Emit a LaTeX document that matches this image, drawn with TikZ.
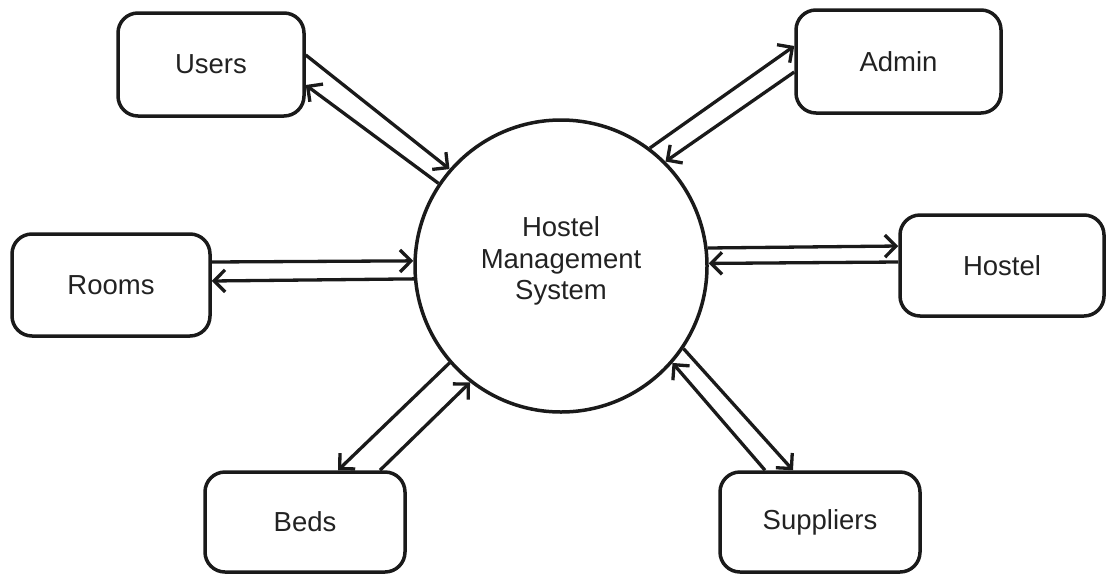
\documentclass[tikz,border=0pt]{standalone}
\usepackage{fontspec}
\setmainfont{Liberation Sans}
\usetikzlibrary{arrows.meta}
\definecolor{ink}{HTML}{1A1A1A}
\definecolor{txt}{HTML}{222222}
\begin{document}
\begin{tikzpicture}[x=1pt,y=-1pt,
  box/.style={draw=ink, line width=3.5pt, rounded corners=20pt, text=txt,
    font=\fontsize{27.5}{31.5}\selectfont},
  hub/.style={draw=ink, line width=3.5pt, circle, minimum size=292pt, inner sep=0pt},
  conn/.style={draw=ink, line width=3.3pt, -{Straight Barb[length=11pt,width=22pt]}}
]
\useasboundingbox (0,0) rectangle (1115,584);

\node[hub, label={[name=hsmtext, align=center, text=txt, yshift=5pt,
  font=\fontsize{27.5}{31.5}\selectfont]center:Hostel\\Management\\System}] (hsm) at (561,266) {};

\node[box, minimum width=186pt, minimum height=103pt] (users) at (211,64.5) {Users};
\node[box, minimum width=205pt, minimum height=103pt] (admin) at (898.5,61.5) {Admin};
\node[box, minimum width=198pt, minimum height=102pt] (rooms) at (111,285) {Rooms};
\node[box, minimum width=204pt, minimum height=101pt] (hostel) at (1002,265.5) {Hostel};
\node[box, minimum width=200pt, minimum height=100pt] (beds) at (305,522) {Beds};
\node[box, minimum width=200pt, minimum height=100pt] (suppliers) at (820,522) {Suppliers};

\draw[conn] ([yshift=9.5pt]users.east) -- (hsm.139.8);
\draw[conn] (hsm.146.2) -- ([yshift=-20.5pt]users.east);
\draw[conn] (hsm.53.7) -- ([yshift=15.5pt]admin.west);
\draw[conn] ([yshift=-10.5pt]admin.west) -- (hsm.45.3);
\draw[conn] ([yshift=23pt]rooms.east) -- (hsm.178.5);
\draw[conn] (hsm.185.8) -- ([yshift=4pt]rooms.east);
\draw[conn] (hsm.7.8) -- ([yshift=19.5pt]hostel.west);
\draw[conn] ([yshift=3.5pt]hostel.west) -- (hsm.1.55);
\draw[conn] (hsm.221.9) -- ([xshift=33pt]beds.north);
\draw[conn] ([xshift=75pt]beds.north) -- (hsm.232.5);
\draw[conn] ([xshift=-55pt]suppliers.north) -- (hsm.319.3);
\draw[conn] (hsm.326.9) -- ([xshift=-27pt]suppliers.north);
\end{tikzpicture}
\end{document}
